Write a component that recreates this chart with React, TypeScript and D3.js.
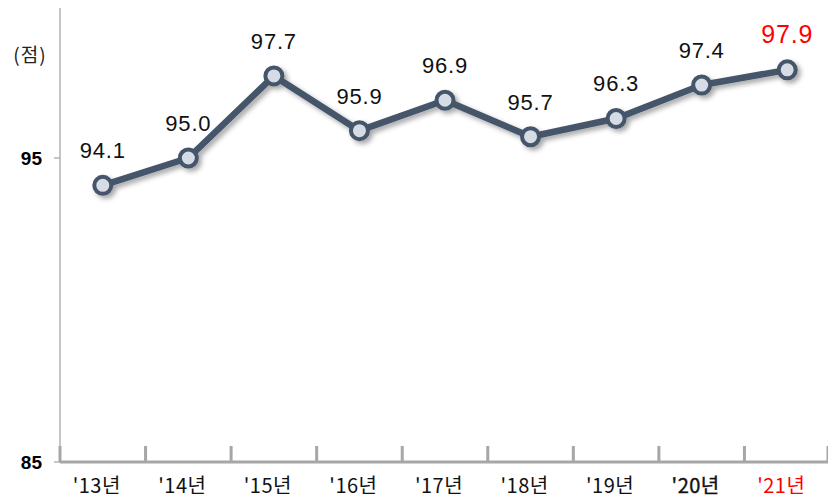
import React from 'react';
import * as d3 from 'd3';

const years = ["'13년", "'14년", "'15년", "'16년", "'17년", "'18년", "'19년", "'20년", "'21년"];
const scores = [94.1, 95.0, 97.7, 95.9, 96.9, 95.7, 96.3, 97.4, 97.9];
const yTicks = [85, 95];

const W = 828;
const H = 498;
const left = 60;
const right = 830;
const top = 6;
const bottom = 462;

const App = () => {
  const x = d3.scaleBand<string>().domain(years).range([left, right]);
  const y = d3.scaleLinear().domain([85, 100]).range([bottom, top]);
  const cx = (d: string) => (x(d) ?? 0) + x.bandwidth() / 2;
  const pts = years.map((d, i) => [cx(d), y(scores[i])] as [number, number]);
  const line = d3.line()(pts) ?? '';
  const font = "'Noto Sans CJK KR', 'Noto Sans', sans-serif";
  const num = "'Liberation Sans', Arial, sans-serif";
  const last = years.length - 1;

  return (
    <svg width={W} height={H} style={{ position: 'absolute', left: 0, top: 0 }} fontFamily={font}>
      <defs>
        <filter id="sh" x="-20%" y="-20%" width="140%" height="140%">
          <feDropShadow dx="3" dy="3" stdDeviation="2.5" floodColor="#000" floodOpacity="0.35" />
        </filter>
      </defs>
      {/* y axis */}
      <line x1={left} x2={left} y1={8} y2={bottom} stroke="#a0a0a0" strokeWidth={1.2} />
      {yTicks.map(t => (
        <g key={t}>
          <line x1={left - 6} x2={left} y1={y(t)} y2={y(t)} stroke="#a0a0a0" strokeWidth={1.2} />
          <text x={42} y={y(t) + 7} textAnchor="end" fontSize={19} fontWeight="bold" fontFamily={num}>{t}</text>
        </g>
      ))}
      <text x={30} y={62} textAnchor="middle" fontSize={19} fill="#222" letterSpacing={1}>(점)</text>
      {/* x axis */}
      <line x1={left} x2={W} y1={bottom} y2={bottom} stroke="#a6a6a6" strokeWidth={3} />
      {years.map(d => (
        <line key={d} x1={x(d)} x2={x(d)} y1={bottom - 16} y2={bottom} stroke="#a6a6a6" strokeWidth={3} />
      ))}
      <line x1={right - 2} x2={right - 2} y1={bottom - 16} y2={bottom} stroke="#a6a6a6" strokeWidth={3} />
      {years.map((d, i) => (
        <text key={d} x={cx(d) - 6} y={bottom + 31} textAnchor="middle" fontSize={20} letterSpacing={0.5}
          fill={i === last ? '#ff0000' : '#111'}
          stroke={i === last - 1 ? '#111' : 'none'} strokeWidth={0.4}>{d}</text>
      ))}
      {/* line */}
      <g filter="url(#sh)">
        <path d={line} fill="none" stroke="#44546a" strokeWidth={6.5} strokeLinejoin="round" />
        {pts.map((p, i) => (
          <circle key={i} cx={p[0]} cy={p[1]} r={8.5} fill="#d6dce5" stroke="#44546a" strokeWidth={4} />
        ))}
      </g>
      {pts.map((p, i) => (
        <text key={i} x={p[0]} y={p[1] - 27} textAnchor="middle" letterSpacing={0.8}
          fontSize={i === last ? 25 : 22} fill={i === last ? '#ff0000' : '#111'}
          fontFamily={num}>{scores[i].toFixed(1)}</text>
      ))}
    </svg>
  );
};

export default App;
